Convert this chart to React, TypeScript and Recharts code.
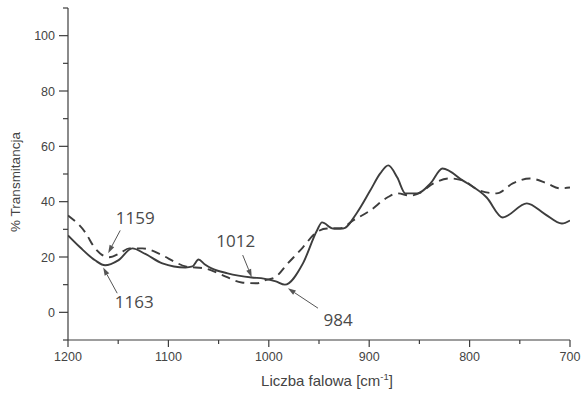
import { Line, LineChart, ReferenceDot, ReferenceLine, XAxis, YAxis } from 'recharts';

// wavenumber (cm-1) and % transmittance, solid trace
const solidWave = [1200, 1188, 1173, 1163, 1150, 1136, 1123, 1106, 1083, 1076, 1070, 1064, 1057, 1041, 1017, 1005, 993, 984, 966, 952, 947, 936, 926, 912, 899, 889, 881, 872, 864, 852, 839, 827, 807, 783, 767, 743, 725, 708, 700];
const solidT = [27.8, 23.5, 18.8, 17.0, 18.8, 23.1, 21.1, 17.7, 16.2, 16.6, 19.1, 17.4, 15.9, 14.1, 12.6, 12.2, 11.2, 10.0, 17.7, 29.6, 32.5, 30.3, 30.3, 36.1, 44, 50.2, 53.1, 48.7, 43, 43, 46.6, 52, 47.7, 41.5, 34.3, 39.4, 35.5, 32.1, 33.2];

// dashed trace
const dashedWave = [1200, 1183, 1173, 1159, 1148, 1139, 1126, 1106, 1093, 1083, 1063, 1047, 1027, 1012, 1004, 994, 981, 966, 954, 942, 929, 916, 899, 882, 872, 859, 849, 836, 820, 807, 790, 773, 757, 740, 723, 710, 700];
const dashedT = [35, 29, 23.1, 19.9, 21.4, 23.1, 23.1, 20.6, 18.1, 16.6, 15.8, 13.6, 10.8, 10.5, 11.6, 12.6, 17.7, 23.5, 28.5, 30.3, 30.3, 33.2, 36.8, 41.5, 43, 42.2, 43.3, 46.6, 48.4, 47.7, 44, 43, 46.6, 48.4, 46.6, 44.8, 45.1];

const xTicks = [700, 750, 800, 850, 900, 950, 1000, 1050, 1100, 1150, 1200];
const yTicks = [-10, 0, 10, 20, 30, 40, 50, 60, 70, 80, 90, 100, 110];

// peak labels: text anchor point and arrow tail -> head, in data units
const peakLabels = ['1159', '1163', '1012', '984'];
const labelAt = [[1133, 34], [1134, 3.7], [1033, 25.7], [931, -2.8]];
const arrowFrom = [[1148, 29.6], [1151, 6.9], [1026, 20.7], [951, 1.5]];
const arrowTo = [[1160, 21.4], [1165, 16.2], [1017, 12.7], [981, 8.7]];

const solidData = solidWave.map((w, i) => ({ w, t: solidT[i] }));
const dashedData = dashedWave.map((w, i) => ({ w, t: dashedT[i] }));

const INK = '#3d3d3d';
const AXIS_FONT = '"Liberation Sans", Arial, sans-serif';

const XTick = (props: any) => {
  const { x, y, payload } = props;
  const major = payload.value % 100 === 0;
  return (
    <g>
      <line x1={x} y1={y} x2={x} y2={y + (major ? 7 : 4)} stroke={INK} strokeWidth={1.2} />
      {major && (
        <text x={x} y={y + 21} textAnchor="middle" fontSize={12.5} fontFamily={AXIS_FONT} fill="#444">
          {payload.value}
        </text>
      )}
    </g>
  );
};

const YTick = (props: any) => {
  const { x, y, payload } = props;
  const v = payload.value;
  const major = v % 20 === 0;
  return (
    <g>
      <line x1={x - (major ? 9 : 5)} y1={y} x2={x} y2={y} stroke={INK} strokeWidth={1.2} />
      {major && v >= 0 && v <= 100 && (
        <text x={x - 13} y={y + 4.5} textAnchor="end" fontSize={12.5} fontFamily={AXIS_FONT} fill="#444">
          {v}
        </text>
      )}
    </g>
  );
};

const Arrow = (p: any) => {
  const { x1, y1, x2, y2 } = p;
  const a = Math.atan2(y2 - y1, x2 - x1);
  const len = 8;
  const w = 2.6;
  const bx = x2 - len * Math.cos(a);
  const by = y2 - len * Math.sin(a);
  const pts = `${x2},${y2} ${bx + w * Math.sin(a)},${by - w * Math.cos(a)} ${bx - w * Math.sin(a)},${by + w * Math.cos(a)}`;
  return (
    <g>
      <line x1={x1} y1={y1} x2={bx} y2={by} stroke="#555" strokeWidth={1} />
      <polygon points={pts} fill="#555" />
    </g>
  );
};

const PeakText = (text: string) => (p: any) => (
  <text x={p.cx} y={p.cy + 6} textAnchor="middle" fontSize={17} fontFamily='"Open Sans", sans-serif' fill="#4a4a4a">
    {text}
  </text>
);

export default function App() {
  return (
    <div style={{ position: 'absolute', left: 0, top: 0, background: '#fff' }}>
      <LineChart width={582} height={400} margin={{ top: 8, right: 12, bottom: 30, left: 0 }}>
        <XAxis
          dataKey="w"
          type="number"
          domain={[700, 1200]}
          reversed
          allowDataOverflow
          ticks={xTicks}
          interval={0}
          tickSize={0}
          tickMargin={0}
          tick={<XTick />}
          height={30}
          stroke={INK}
          strokeWidth={1.2}
          label={{
            position: 'bottom',
            content: (lp: any) => {
              const vb = lp.viewBox;
              return (
                <text x={vb.x + vb.width / 2 + 8} y={386} textAnchor="middle" fontSize={15} fontFamily={AXIS_FONT} fill="#444">
                  Liczba falowa [cm
                  <tspan dy={-6} fontSize={9.5}>-1</tspan>
                  <tspan dy={6}>]</tspan>
                </text>
              );
            },
          }}
        />
        <YAxis
          type="number"
          domain={[-10, 110]}
          allowDataOverflow
          ticks={yTicks}
          interval={0}
          tickSize={0}
          tickMargin={0}
          tick={<YTick />}
          width={68}
          stroke={INK}
          strokeWidth={1.2}
          label={{
            position: 'left',
            content: () => (
              <text
                x={20}
                y={182}
                transform="rotate(-90 20 182)"
                textAnchor="middle"
                fontSize={13.5}
                fontFamily={AXIS_FONT}
                fill="#444"
              >
                % Transmitancja
              </text>
            ),
          }}
        />
        <Line
          data={dashedData}
          dataKey="t"
          type="monotone"
          stroke={INK}
          strokeWidth={1.9}
          strokeDasharray="9 6"
          dot={false}
          isAnimationActive={false}
        />
        <Line
          data={solidData}
          dataKey="t"
          type="monotone"
          stroke={INK}
          strokeWidth={1.9}
          dot={false}
          isAnimationActive={false}
        />
        {peakLabels.map((label, i) => (
          <ReferenceLine
            key={`a${label}`}
            segment={[
              { x: arrowFrom[i][0], y: arrowFrom[i][1] },
              { x: arrowTo[i][0], y: arrowTo[i][1] },
            ]}
            shape={Arrow}
          />
        ))}
        {peakLabels.map((label, i) => (
          <ReferenceDot key={`t${label}`} x={labelAt[i][0]} y={labelAt[i][1]} r={0} shape={PeakText(label)} />
        ))}
      </LineChart>
    </div>
  );
}
